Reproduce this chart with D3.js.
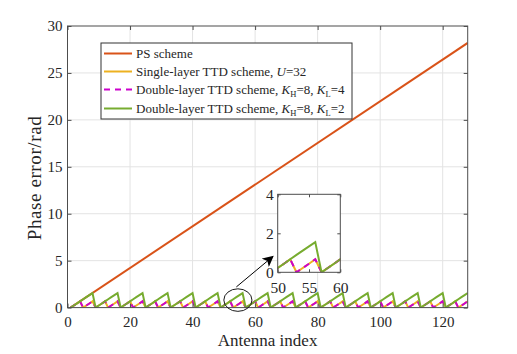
<!DOCTYPE html>
<html><head><meta charset="utf-8">
<script src="https://cdn.jsdelivr.net/npm/d3@7"></script>
<style>
html,body{margin:0;padding:0;background:#fff;}
svg text{font-family:"Liberation Serif","Times New Roman",serif;fill:#262626;}
</style></head>
<body><svg id="c" width="517" height="354"></svg>
<script>
// ---------------- data ----------------
const xTicks = [0, 20, 40, 60, 80, 100, 120];
const yTicks = [0, 5, 10, 15, 20, 25, 30];
const insetXTicks = [50, 55, 60];
const insetYTicks = [0, 2, 4];

const antenna = d3.range(1, 129); // antenna index 1..128

// PS scheme (straight line)
const psAntenna = [1, 128];
const psError = [0, 28.2];

// Single-layer TTD scheme, U=32 (period 4)
const singleError = [
  0,0.22,0.44,0.67, 0,0.22,0.44,0.67, 0,0.22,0.44,0.67, 0,0.22,0.44,0.67,
  0,0.22,0.44,0.67, 0,0.22,0.44,0.67, 0,0.22,0.44,0.67, 0,0.22,0.44,0.67,
  0,0.22,0.44,0.67, 0,0.22,0.44,0.67, 0,0.22,0.44,0.67, 0,0.22,0.44,0.67,
  0,0.22,0.44,0.67, 0,0.22,0.44,0.67, 0,0.22,0.44,0.67, 0,0.22,0.44,0.67,
  0,0.22,0.44,0.67, 0,0.22,0.44,0.67, 0,0.22,0.44,0.67, 0,0.22,0.44,0.67,
  0,0.22,0.44,0.67, 0,0.22,0.44,0.67, 0,0.22,0.44,0.67, 0,0.22,0.44,0.67,
  0,0.22,0.44,0.67, 0,0.22,0.44,0.67, 0,0.22,0.44,0.67, 0,0.22,0.44,0.67,
  0,0.22,0.44,0.67, 0,0.22,0.44,0.67, 0,0.22,0.44,0.67, 0,0.22,0.44,0.67
];
// Double-layer TTD scheme, KH=8, KL=4 (period 4)
const doubleK4Error = [
  0,0.22,0.44,0.67, 0,0.22,0.44,0.67, 0,0.22,0.44,0.67, 0,0.22,0.44,0.67,
  0,0.22,0.44,0.67, 0,0.22,0.44,0.67, 0,0.22,0.44,0.67, 0,0.22,0.44,0.67,
  0,0.22,0.44,0.67, 0,0.22,0.44,0.67, 0,0.22,0.44,0.67, 0,0.22,0.44,0.67,
  0,0.22,0.44,0.67, 0,0.22,0.44,0.67, 0,0.22,0.44,0.67, 0,0.22,0.44,0.67,
  0,0.22,0.44,0.67, 0,0.22,0.44,0.67, 0,0.22,0.44,0.67, 0,0.22,0.44,0.67,
  0,0.22,0.44,0.67, 0,0.22,0.44,0.67, 0,0.22,0.44,0.67, 0,0.22,0.44,0.67,
  0,0.22,0.44,0.67, 0,0.22,0.44,0.67, 0,0.22,0.44,0.67, 0,0.22,0.44,0.67,
  0,0.22,0.44,0.67, 0,0.22,0.44,0.67, 0,0.22,0.44,0.67, 0,0.22,0.44,0.67
];
// Double-layer TTD scheme, KH=8, KL=2 (period 8)
const doubleK2Error = [
  0,0.22,0.44,0.67,0.89,1.11,1.33,1.55, 0,0.22,0.44,0.67,0.89,1.11,1.33,1.55,
  0,0.22,0.44,0.67,0.89,1.11,1.33,1.55, 0,0.22,0.44,0.67,0.89,1.11,1.33,1.55,
  0,0.22,0.44,0.67,0.89,1.11,1.33,1.55, 0,0.22,0.44,0.67,0.89,1.11,1.33,1.55,
  0,0.22,0.44,0.67,0.89,1.11,1.33,1.55, 0,0.22,0.44,0.67,0.89,1.11,1.33,1.55,
  0,0.22,0.44,0.67,0.89,1.11,1.33,1.55, 0,0.22,0.44,0.67,0.89,1.11,1.33,1.55,
  0,0.22,0.44,0.67,0.89,1.11,1.33,1.55, 0,0.22,0.44,0.67,0.89,1.11,1.33,1.55,
  0,0.22,0.44,0.67,0.89,1.11,1.33,1.55, 0,0.22,0.44,0.67,0.89,1.11,1.33,1.55,
  0,0.22,0.44,0.67,0.89,1.11,1.33,1.55, 0,0.22,0.44,0.67,0.89,1.11,1.33,1.55
];

const series = [
  {key:"ps", xs: psAntenna, ys: psError, color:"#D95319", dash:null},
  {key:"single", xs: antenna, ys: singleError, color:"#EDB120", dash:null},
  {key:"k4", xs: antenna, ys: doubleK4Error, color:"#CC00CC", dash:"6,5"},
  {key:"k2", xs: antenna, ys: doubleK2Error, color:"#77AC30", dash:null}
];

// ---------------- drawing ----------------
const svg = d3.select("#c");
const M = {left:67.5, right:467.7, top:26, bottom:307.6};
const x = d3.scaleLinear().domain([0,128]).range([M.left, M.right]);
const y = d3.scaleLinear().domain([0,30]).range([M.bottom, M.top]);
const axisColor = "#4d4d4d";
const serif = '"Liberation Serif","Times New Roman",serif';

svg.append("rect").attr("x",M.left).attr("y",M.top)
  .attr("width",M.right-M.left).attr("height",M.bottom-M.top).attr("fill","#fff");

// grid
const grid = svg.append("g");
grid.selectAll("line.gx").data(xTicks.slice(1)).join("line")
  .attr("x1",d=>x(d)).attr("x2",d=>x(d)).attr("y1",M.top).attr("y2",M.bottom)
  .attr("stroke","#e3e3e3").attr("stroke-width",1);
grid.selectAll("line.gy").data(yTicks.slice(1,-1)).join("line")
  .attr("y1",d=>y(d)).attr("y2",d=>y(d)).attr("x1",M.left).attr("x2",M.right)
  .attr("stroke","#e3e3e3").attr("stroke-width",1);

// clip
svg.append("clipPath").attr("id","mainclip").append("rect")
  .attr("x",M.left).attr("y",M.top-2).attr("width",M.right-M.left).attr("height",M.bottom-M.top+2);

function drawSeries(g, xs, ys, clipId){
  const gg = g.append("g").attr("clip-path",`url(#${clipId})`);
  series.forEach(s=>{
    const pts = s.xs.map((v,i)=>[v, s.ys[i]]);
    gg.append("path").datum(pts)
      .attr("d", d3.line().x(d=>xs(d[0])).y(d=>ys(d[1])))
      .attr("fill","none").attr("stroke",s.color).attr("stroke-width",2)
      .attr("stroke-dasharray",s.dash).attr("stroke-linejoin","miter");
  });
}
drawSeries(svg, x, y, "mainclip");

// axes (MATLAB-style box with inward ticks)
function boxAxes(g, xs, ys, xt, yt, tickLen, fontSize, xLabOff, yLabOff){
  const [x0,x1] = xs.range(), [y0,y1] = ys.range();
  g.append("rect").attr("x",x0).attr("y",y1).attr("width",x1-x0).attr("height",y0-y1)
    .attr("fill","none").attr("stroke",axisColor).attr("stroke-width",1);
  const bottom = d3.axisBottom(xs).tickValues(xt).tickSize(-tickLen).tickPadding(xLabOff).tickFormat(d3.format("d"));
  const left = d3.axisLeft(ys).tickValues(yt).tickSize(-tickLen).tickPadding(yLabOff).tickFormat(d3.format("d"));
  const top = d3.axisTop(xs).tickValues(xt).tickSize(-tickLen).tickFormat("");
  const right = d3.axisRight(ys).tickValues(yt).tickSize(-tickLen).tickFormat("");
  const styleAx = sel => { sel.select(".domain").remove();
    sel.attr("font-family",serif);
    sel.selectAll(".tick line").attr("stroke",axisColor);
    sel.selectAll("text").attr("font-size",fontSize).attr("fill","#262626"); };
  g.append("g").attr("transform",`translate(0,${y0})`).call(bottom).call(styleAx);
  g.append("g").attr("transform",`translate(${x0},0)`).call(left).call(styleAx);
  g.append("g").attr("transform",`translate(0,${y1})`).call(top).call(styleAx);
  g.append("g").attr("transform",`translate(${x1},0)`).call(right).call(styleAx);
}
boxAxes(svg, x, y, xTicks, yTicks, 4, 15, 9, 5);

// axis labels
svg.append("text").attr("x",(M.left+M.right)/2).attr("y",346)
  .attr("text-anchor","middle").attr("font-size",17).text("Antenna index");
svg.append("text").attr("transform",`translate(41,178) rotate(-90)`)
  .attr("text-anchor","middle").attr("font-size",19).attr("letter-spacing",0.6)
  .text("Phase error/rad");

// ellipse + arrow annotation
svg.append("ellipse").attr("cx",x(54.5)).attr("cy",y(0.8))
  .attr("rx",x(4.5)-x(0)).attr("ry",y(0)-y(1.2))
  .attr("fill","none").attr("stroke","#1a1a1a").attr("stroke-width",1);
svg.append("defs").append("marker").attr("id","ah").attr("viewBox","0 0 10 10")
  .attr("refX",9).attr("refY",5).attr("markerWidth",11).attr("markerHeight",11)
  .attr("markerUnits","userSpaceOnUse").attr("orient","auto")
  .append("path").attr("d","M0,0 L10,5 L0,10 L2.5,5 Z").attr("fill","#000");
svg.append("line").attr("x1",x(54)).attr("y1",y(2.2)).attr("x2",x(65.7)).attr("y2",y(5.45))
  .attr("stroke","#000").attr("stroke-width",1).attr("marker-end","url(#ah)");

// inset
const I = {left:277.7, right:340.3, top:194.3, bottom:272.3};
const xi = d3.scaleLinear().domain([50,60]).range([I.left, I.right]);
const yi = d3.scaleLinear().domain([0,4]).range([I.bottom, I.top]);
const ig = svg.append("g");
ig.append("rect").attr("x",I.left).attr("y",I.top).attr("width",I.right-I.left)
  .attr("height",I.bottom-I.top).attr("fill","#fff");
svg.append("clipPath").attr("id","insetclip").append("rect")
  .attr("x",I.left).attr("y",I.top).attr("width",I.right-I.left).attr("height",I.bottom-I.top);
drawSeries(ig, xi, yi, "insetclip");
boxAxes(ig, xi, yi, insetXTicks, insetYTicks, 3, 15.5, 10, 4);

// legend
const L = {x:101, y:43, w:251, h:76};
const lg = svg.append("g");
lg.append("rect").attr("x",L.x).attr("y",L.y).attr("width",L.w).attr("height",L.h)
  .attr("fill","#fff").attr("stroke","#333").attr("stroke-width",1);
const rowsY = [53.5, 71.5, 89.5, 108.5];
const legendItems = [
  {s:series[0], parts:[["PS scheme"]]},
  {s:series[1], parts:[["Single-layer TTD scheme, "],["U","it"],["=32"]]},
  {s:series[2], parts:[["Double-layer TTD scheme, "],["K","it"],["H","sub"],["=8, "],["K","it"],["L","sub"],["=4"]]},
  {s:series[3], parts:[["Double-layer TTD scheme, "],["K","it"],["H","sub"],["=8, "],["K","it"],["L","sub"],["=2"]]}
];
legendItems.forEach((it,i)=>{
  const yy = rowsY[i];
  lg.append("line").attr("x1",104).attr("x2",132).attr("y1",yy).attr("y2",yy)
    .attr("stroke",it.s.color).attr("stroke-width",2).attr("stroke-dasharray",it.s.dash);
  const t = lg.append("text").attr("x",136).attr("y",yy+4.5).attr("font-size",13);
  let shifted = false;
  it.parts.forEach(p=>{
    const ts = t.append("tspan").text(p[0]);
    if(p[1]==="it") ts.attr("font-style","italic");
    if(p[1]==="sub"){ ts.attr("font-size",8.5).attr("dy",3); shifted = true; }
    else if(shifted){ ts.attr("dy",-3); shifted = false; }
  });
});
</script></body></html>
